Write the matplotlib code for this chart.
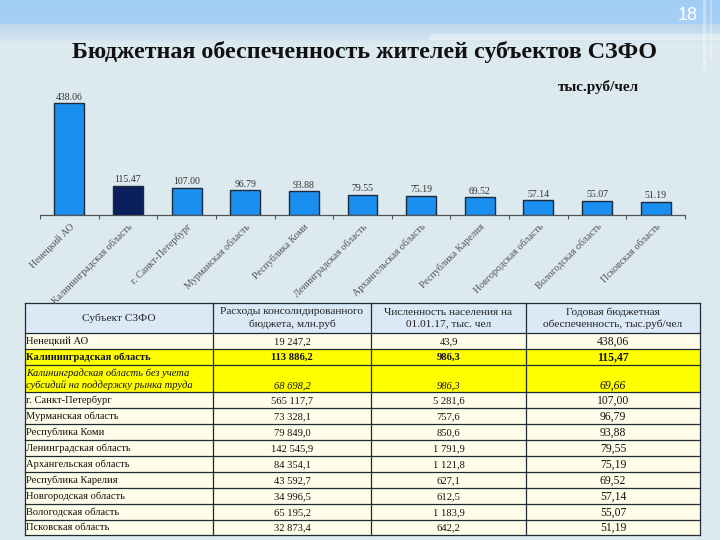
import numpy as np
import matplotlib
matplotlib.use("Agg")
import matplotlib.pyplot as plt
from matplotlib.patches import Rectangle

# ---------------- data ----------------
chart_labels = ["Ненецкий АО", "Калининградская область", "г. Санкт-Петербург",
                "Мурманская область", "Республика Коми", "Ленинградская область",
                "Архангельская область", "Республика Карелия", "Новгородская область",
                "Вологодская область", "Псковская область"]
chart_values = [438.06, 115.47, 107.00, 96.79, 93.88, 79.55, 75.19, 69.52, 57.14, 55.07, 51.19]

table_header = ["Субъект СЗФО", "Расходы консолидированного\nбюджета, млн.руб",
                "Численность населения на\n01.01.17, тыс. чел",
                "Годовая бюджетная\nобеспеченность, тыс.руб/чел"]
table_subjects = ["Ненецкий АО", "Калининградская область",
                  "Калининградская область без учета\nсубсидий на поддержку рынка труда",
                  "г. Санкт-Петербург", "Мурманская область", "Республика Коми",
                  "Ленинградская область", "Архангельская область", "Республика Карелия",
                  "Новгородская область", "Вологодская область", "Псковская область"]
table_expenses = [19247.2, 113886.2, 68698.2, 565117.7, 73328.1, 79849.0,
                  142545.9, 84354.1, 43592.7, 34996.5, 65195.2, 32873.4]
table_population = [43.9, 986.3, 986.3, 5281.6, 757.6, 850.6,
                    1791.9, 1121.8, 627.1, 612.5, 1183.9, 642.2]
table_provision = [438.06, 115.47, 69.66, 107.00, 96.79, 93.88,
                   79.55, 75.19, 69.52, 57.14, 55.07, 51.19]
title = "Бюджетная обеспеченность жителей субъектов СЗФО"
unit = "тыс.руб/чел"
page = "18"


def fmt(v, dec):
    s = f"{v:,.{dec}f}".replace(",", " ").replace(".", ",")
    return s


SERIF = ["Liberation Serif", "DejaVu Serif"]

fig = plt.figure(figsize=(7.2, 5.4), dpi=100)

# ---------------- background ----------------
bg = fig.add_axes([0, 0, 1, 1])
bg.set_xlim(0, 720)
bg.set_ylim(540, 0)
bg.axis("off")

ys = np.arange(540)
top = np.array([0.63, 0.80, 0.96])
base = np.array([0.865, 0.914, 0.941])
col = np.zeros((540, 1, 3))
for i, y in enumerate(ys):
    if y < 24:
        c = top + (np.array([0.66, 0.82, 0.97]) - top) * (y / 24)
    elif y < 44:
        t = (y - 24) / 20
        c = np.array([0.74, 0.84, 0.92]) * (1 - t) + base * t
    else:
        c = base
    col[i, 0] = c
bg.imshow(col, extent=[0, 720, 540, 0], aspect="auto", zorder=0)
bg.add_patch(Rectangle((430, 34), 290, 6, facecolor="white", alpha=0.35, lw=0, zorder=1))
bg.add_patch(Rectangle((703, 0), 3, 70, facecolor="white", alpha=0.35, lw=0, zorder=1))
bg.add_patch(Rectangle((710, 0), 2, 60, facecolor="white", alpha=0.3, lw=0, zorder=1))

bg.text(688, 16, page, color="white", fontsize=13, ha="center", va="center",
        family=["Liberation Sans", "DejaVu Sans"], zorder=3)
bg.text(365, 52, title, fontsize=17.3, fontweight="bold", ha="center", va="center",
        family=SERIF, color="#111111", zorder=3)
bg.text(598, 87, unit, fontsize=11, fontweight="bold", ha="center", va="center",
        family=SERIF, color="#111111", zorder=3)

# ---------------- table ----------------
col_x = [25, 213, 371, 526, 700]
row_h = [30, 16, 16, 27, 16, 16, 16, 16, 16, 16, 16, 16, 15]
row_y = [303]
for h in row_h:
    row_y.append(row_y[-1] + h)

fs = 7.6
for r in range(len(row_h)):
    y0, y1 = row_y[r], row_y[r + 1]
    if r == 0:
        fc = "#dbe8f6"
    elif r in (2, 3):
        fc = "#ffff00"
    else:
        fc = "#fefde9"
    bg.add_patch(Rectangle((col_x[0], y0), col_x[-1] - col_x[0], y1 - y0,
                           facecolor=fc, edgecolor="none", zorder=2))
    ym = (y0 + y1) / 2
    if r == 0:
        for c in range(4):
            bg.text((col_x[c] + col_x[c + 1]) / 2, ym, table_header[c], fontsize=8.2,
                    ha="center", va="center", family=SERIF, color="#222222",
                    linespacing=1.35, zorder=4)
        continue
    i = r - 1
    vals = [table_subjects[i], fmt(table_expenses[i], 1), fmt(table_population[i], 1),
            fmt(table_provision[i], 2)]
    weight = "bold" if i == 1 else "normal"
    style = "italic" if i == 2 else "normal"
    for c in range(4):
        size = fs + (0.8 if c == 3 else 0)
        if c == 0:
            bg.text(col_x[0] + 1, ym + 0.5, vals[c], fontsize=fs, ha="left", va="center",
                    family=SERIF, fontweight=weight, fontstyle=style, color="#111111",
                    linespacing=1.3, zorder=4)
        else:
            yy = (y1 - 6) if i == 2 else ym + 0.5
            bg.text((col_x[c] + col_x[c + 1]) / 2, yy, vals[c], fontsize=size,
                    ha="center", va="center", family=SERIF, fontweight=weight,
                    fontstyle=style, color="#111111", zorder=4)

# grid lines
for y in row_y:
    bg.plot([col_x[0], col_x[-1]], [y, y], color="#1e2a36", lw=0.9, zorder=5)
for x in col_x:
    bg.plot([x, x], [row_y[0], row_y[-1]], color="#1e2a36", lw=0.9, zorder=5)

# ---------------- bar chart ----------------
ax = fig.add_axes([40 / 720, (540 - 215) / 540, 645 / 720, 125 / 540])
ax.set_facecolor("none")
xs = np.arange(len(chart_values))
colors = ["#1a8ff0"] * len(chart_values)
colors[1] = "#0b1f5e"
ax.bar(xs, chart_values, width=0.51, color=colors, edgecolor="#1b2b3b", linewidth=1.0,
       zorder=3)
for x, v in zip(xs, chart_values):
    ax.text(x, v + 6, f"{v:.2f}", ha="center", va="bottom", fontsize=7,
            family=SERIF, color="#333333")
ax.set_xlim(-0.5, len(chart_values) - 0.5)
ax.set_ylim(0, 490)
for s in ("top", "right", "left"):
    ax.spines[s].set_visible(False)
ax.spines["bottom"].set_color("#555555")
ax.spines["bottom"].set_linewidth(0.9)
ax.set_yticks([])
ax.set_xticks(xs)
ax.set_xticklabels(chart_labels, rotation=45, ha="right", rotation_mode="anchor",
                   fontsize=7.2, family=SERIF, color="#555555")
ax.tick_params(axis="x", which="major", length=0, pad=5)
ax.set_xticks(np.arange(-0.5, len(chart_values) + 0.5, 1), minor=True)
ax.tick_params(axis="x", which="minor", length=3, color="#555555", width=0.8)

fig.savefig("out.png", dpi=100)
